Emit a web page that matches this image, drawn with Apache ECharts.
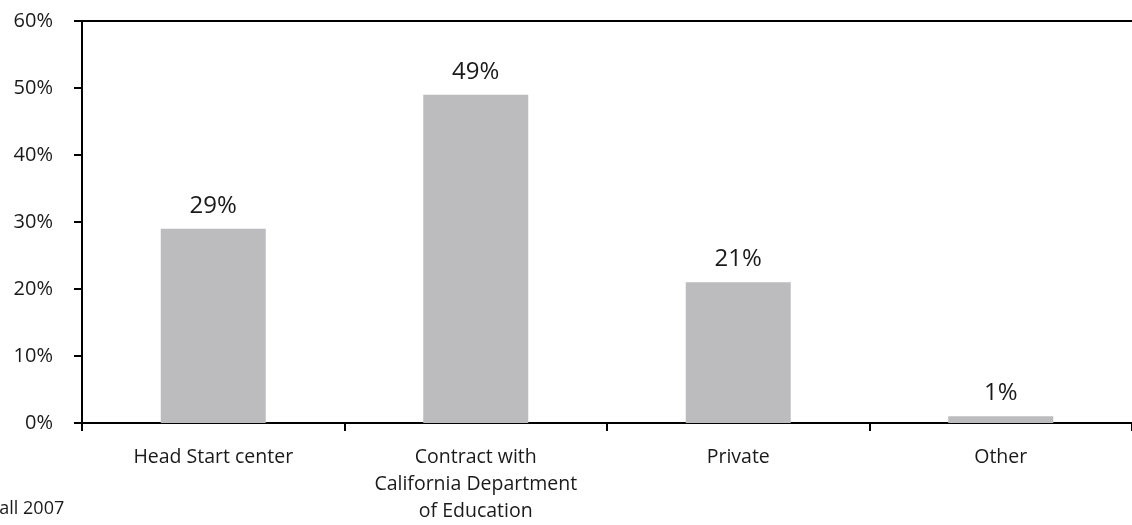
<!DOCTYPE html>
<html>
<head>
<meta charset="utf-8">
<script src="https://cdn.jsdelivr.net/npm/echarts@6/dist/echarts.min.js"></script>
<style>
  html, body { margin: 0; padding: 0; background: #fff; }
  #chart { width: 1132px; height: 525px; }
</style>
</head>
<body>
<div id="chart"></div>
<script>
const categories = ['Head Start center', 'Contract with\nCalifornia Department\nof Education', 'Private', 'Other'];
const values = [29, 49, 21, 1];
const yTicks = [0, 10, 20, 30, 40, 50, 60];
const footnote = 'Fall 2007';

const FONT = '"Open Sans", "Noto Sans", sans-serif';
const chart = echarts.init(document.getElementById('chart'));
chart.setOption({
  animation: false,
  backgroundColor: '#fff',
  grid: { left: 82, right: -6, top: 21, bottom: 98, containLabel: false },
  xAxis: {
    type: 'category',
    data: categories,
    axisLine: { lineStyle: { color: '#000', width: 2 } },
    axisTick: { show: true, length: 8, lineStyle: { color: '#000', width: 2 } },
    axisLabel: { color: '#1a1a1a', fontSize: 19.5, fontFamily: FONT, margin: 21, lineHeight: 27, interval: 0 }
  },
  yAxis: {
    type: 'value',
    min: yTicks[0],
    max: yTicks[yTicks.length - 1],
    interval: 10,
    axisLine: { show: true, lineStyle: { color: '#000', width: 2 } },
    axisTick: { show: true, length: 8, lineStyle: { color: '#000', width: 2 } },
    axisLabel: { color: '#1a1a1a', fontSize: 20, fontFamily: FONT, margin: 29, formatter: v => v + '%' },
    splitLine: { show: true, lineStyle: { color: ['none','none','none','none','none','none','#000'], width: 2 } }
  },
  series: [{
    type: 'bar',
    data: values,
    barWidth: 105,
    itemStyle: { color: '#BCBCBF' },
    label: { show: true, position: 'top', distance: 11, color: '#1a1a1a', fontSize: 24, fontFamily: FONT, formatter: p => p.value + '%' }
  }],
  graphic: [{
    type: 'text', left: -10, top: 500,
    style: { text: footnote, fontSize: 18, fontFamily: FONT, fill: '#1a1a1a' }
  }]
});
</script>
</body>
</html>
